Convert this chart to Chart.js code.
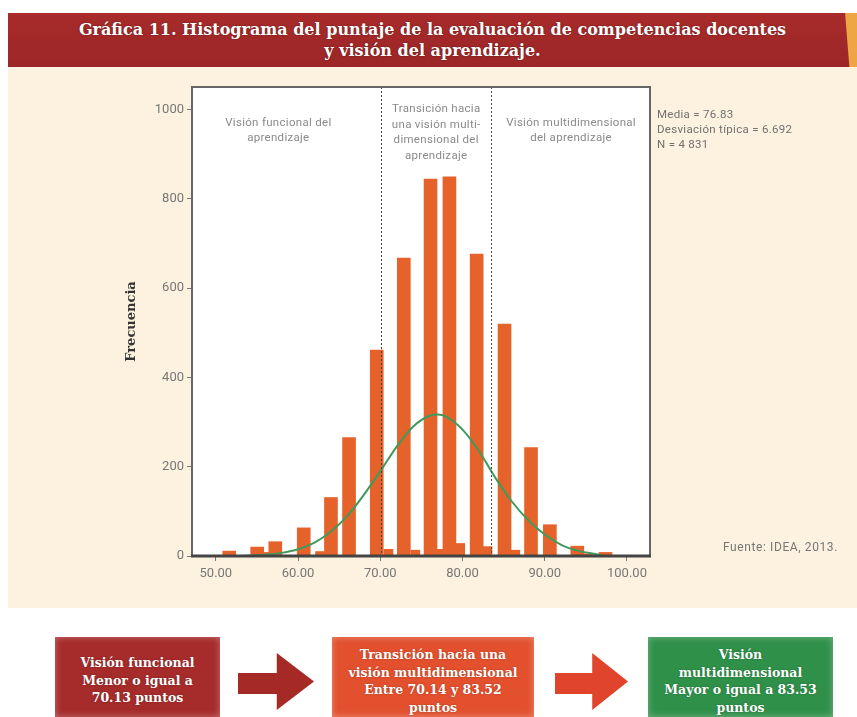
<!DOCTYPE html>
<html>
<head>
<meta charset="utf-8">
<script src="https://cdn.jsdelivr.net/npm/chart.js@4"></script>
<style>
  body { margin: 0; width: 857px; height: 717px; background: #fff; position: relative; overflow: hidden; font-family: Roboto, sans-serif; }
  .title { position: absolute; left: 8px; top: 13px; width: 849px; height: 54px; background: linear-gradient(#a82b2b, #9c2626); color: #fff; font-family: "DejaVu Serif", serif; font-weight: bold; font-size: 16px; line-height: 21px; text-align: center; padding-top: 6px; box-sizing: border-box; text-shadow: 0 0 2px rgba(0,0,0,0.4); }
  .slant { position: absolute; left: 840px; top: 13px; width: 17px; height: 54px; background: #eea543; clip-path: polygon(30% 0, 100% 0, 100% 100%, 55% 100%); }
  .panel { position: absolute; left: 8px; top: 67px; width: 849px; height: 541px; background: #fcf2df; }
  .source { position: absolute; left: 723px; top: 540px; font-size: 12px; color: #777; letter-spacing: 0.6px; }
  .box { position: absolute; top: 637px; height: 80px; color: #fff; font-family: "DejaVu Serif", serif; font-weight: bold; font-size: 12.5px; line-height: 17.7px; text-align: center; box-sizing: border-box; box-shadow: inset 0 0 7px rgba(255,255,255,0.35); text-shadow: 0 0 2px rgba(0,0,0,0.3); }
  .arrow { position: absolute; top: 653px; height: 57px; clip-path: polygon(0 35%, 51% 35%, 51% 0, 100% 50%, 51% 100%, 51% 72%, 0 72%); }
</style>
</head>
<body>
<div class="title">Gráfica 11. Histograma del puntaje de la evaluación de competencias docentes<br>y visión del aprendizaje.</div>
<div class="slant"></div>
<div class="panel"><canvas id="chart"></canvas></div>
<div class="source">Fuente: IDEA, 2013.</div>

<div class="box" style="left:55px; width:165px; background:#a62b2b; padding-top:17px;">Visión funcional<br>Menor o igual a<br>70.13 puntos</div>
<div class="arrow" style="left:238px; width:76px; background:#a52a26;"></div>
<div class="box" style="left:332px; width:202px; background:#e2502e; padding-top:9px;">Transición hacia una<br>visión multidimensional<br>Entre 70.14 y 83.52<br>puntos</div>
<div class="arrow" style="left:555px; width:73px; background:#e0442c;"></div>
<div class="box" style="left:648px; width:185px; background:#2f9049; padding-top:9px;">Visión<br>multidimensional<br>Mayor o igual a 83.53<br>puntos</div>

<script>
// tall histogram bars (score, count)
const tallX = [51.63, 55.03, 57.23, 60.69, 64.00, 66.20, 69.57, 72.86, 76.11, 78.41, 81.72, 85.11, 88.33, 90.62, 93.96, 97.39];
const tallY = [11, 20, 32, 63, 131, 265, 461, 667, 844, 849, 676, 519, 243, 70, 22, 8];
// narrow low bars between them
const smallX = [56.1, 62.67, 71.0, 74.27, 77.27, 79.72, 83.04, 86.43, 95.29];
const smallY = [8, 10, 15, 13, 15, 28, 21, 13, 5];
// normal curve
const curveX = [53, 54, 56, 58, 60, 62, 64, 66, 68, 70, 72, 74, 76, 77, 78, 80, 82, 84, 86, 88, 90, 92, 94, 96, 97];
const curveY = [0, 1, 3, 7, 15, 30, 55, 90, 137, 190, 245, 290, 314, 317, 312, 283, 235, 175, 122, 80, 48, 25, 12, 5, 2];

const xTicks = [50, 60, 70, 80, 90, 100];
const yTicks = [0, 200, 400, 600, 800, 1000];
const cutPoints = [70.14, 83.52];

const zoneLabels = [
  { x: 57.6, y: 970, lines: ['Visión funcional del', 'aprendizaje'] },
  { x: 76.8, y: 1000, lines: ['Transición hacia', 'una visión multi-', 'dimensional del', 'aprendizaje'] },
  { x: 93.2, y: 970, lines: ['Visión multidimensional', 'del aprendizaje'] }
];
const statLines = ['Media = 76.83', 'Desviación típica = 6.692', 'N = 4 831'];

const toPts = (xs, ys) => xs.map((x, i) => ({ x: x, y: ys[i] }));

const frame = {
  id: 'frame',
  beforeDraw(chart) {
    const a = chart.chartArea, ctx = chart.ctx;
    ctx.save();
    ctx.fillStyle = '#fff';
    ctx.fillRect(a.left, a.top, a.right - a.left, a.bottom - a.top);
    ctx.restore();
  },
  afterDatasetsDraw(chart) {
    const a = chart.chartArea, ctx = chart.ctx;
    const xs = chart.scales.x, ys = chart.scales.y;
    ctx.save();
    // cut point lines
    ctx.strokeStyle = '#444';
    ctx.lineWidth = 1;
    ctx.setLineDash([2, 2]);
    cutPoints.forEach(v => {
      const px = Math.round(xs.getPixelForValue(v)) + 0.5;
      ctx.beginPath();
      ctx.moveTo(px, a.top);
      ctx.lineTo(px, a.bottom);
      ctx.stroke();
    });
    ctx.setLineDash([]);
    // box
    ctx.strokeStyle = '#666';
    ctx.lineWidth = 2;
    ctx.strokeRect(a.left, a.top, a.right - a.left, a.bottom - a.top);
    ctx.strokeStyle = '#444';
    ctx.lineWidth = 3;
    ctx.beginPath();
    ctx.moveTo(a.left - 1, a.bottom);
    ctx.lineTo(a.right + 1, a.bottom);
    ctx.stroke();
    // zone captions
    ctx.fillStyle = '#8a8a8a';
    ctx.font = '11.5px Roboto';
    ctx.letterSpacing = '0.3px';
    ctx.textAlign = 'center';
    ctx.textBaseline = 'middle';
    zoneLabels.forEach(z => {
      const px = xs.getPixelForValue(z.x);
      const py = ys.getPixelForValue(z.y);
      z.lines.forEach((t, i) => ctx.fillText(t, px, py + i * 15.5));
    });
    // stats
    ctx.fillStyle = '#707070';
    ctx.textAlign = 'left';
    statLines.forEach((t, i) => ctx.fillText(t, a.right + 7, a.top + 28 + i * 15));
    ctx.restore();
  }
};

new Chart(document.getElementById('chart'), {
  type: 'bar',
  data: {
    datasets: [
      {
        type: 'line',
        data: toPts(curveX, curveY),
        borderColor: '#3f9a5d',
        borderWidth: 2,
        pointRadius: 0,
        cubicInterpolationMode: 'monotone',
        order: 0
      },
      {
        data: toPts(tallX, tallY),
        backgroundColor: '#e5622a',
        barThickness: 13,
        grouped: false,
        order: 1
      },
      {
        data: toPts(smallX, smallY),
        backgroundColor: '#e5622a',
        barThickness: 9,
        grouped: false,
        order: 2
      }
    ]
  },
  options: {
    responsive: true,
    maintainAspectRatio: false,
    animation: false,
    layout: { padding: { left: 112, right: 207, top: 20, bottom: 0 } },
    plugins: { legend: { display: false }, tooltip: { enabled: false } },
    scales: {
      x: {
        type: 'linear',
        offset: false,
        min: 47.1,
        max: 102.8,
        afterBuildTicks: s => { s.ticks = xTicks.map(v => ({ value: v })); },
        afterFit: s => { s.height = 52; },
        ticks: { color: '#777', font: { family: 'Roboto', size: 13 }, padding: 5, maxRotation: 0, callback: v => v.toFixed(2) },
        grid: { offset: false, drawOnChartArea: false, drawTicks: true, tickLength: 5, color: '#777' },
        border: { display: false }
      },
      y: {
        min: 0,
        max: 1050,
        afterBuildTicks: s => { s.ticks = yTicks.map(v => ({ value: v })); },
        afterFit: s => { s.width = 72; },
        ticks: { color: '#777', font: { family: 'Roboto', size: 13 }, padding: 3, callback: v => String(v) },
        grid: { drawOnChartArea: false, drawTicks: true, tickLength: 5, color: '#777' },
        border: { display: false },
        title: { display: true, text: 'Frecuencia', color: '#333', font: { family: 'DejaVu Serif', size: 13, weight: 'bold' }, padding: { top: 4, bottom: 4 } }
      }
    }
  },
  plugins: [frame]
});
</script>
</body>
</html>
